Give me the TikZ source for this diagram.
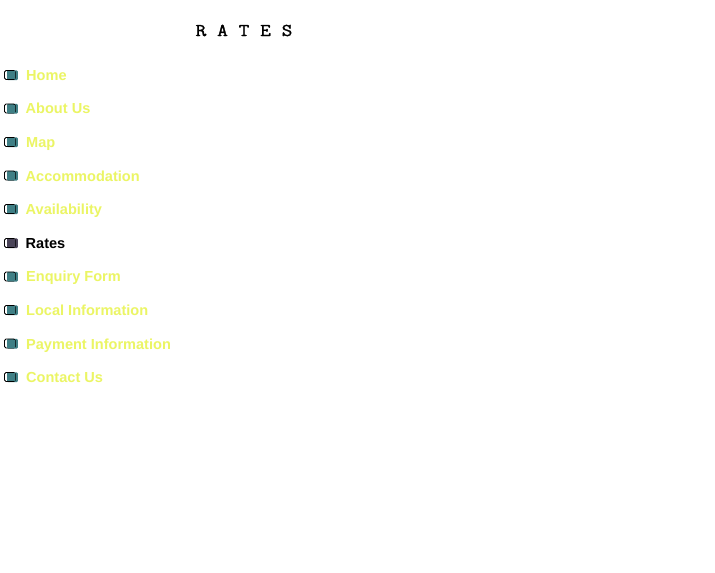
\documentclass[tikz,border=0pt]{standalone}
\usepackage{fontspec}
\setmainfont{Liberation Sans}
\newfontfamily\titlefont[LetterSpace=1,FakeBold=1.6,FakeStretch=1.15]{Latin Modern Mono}
\definecolor{linkc}{HTML}{EBF564}
\definecolor{tealc}{HTML}{3F7F85}
\definecolor{darkc}{HTML}{4A4458}
\tikzset{
  item/.style={anchor=base west,inner sep=0pt,font=\fontsize{14.55}{14.55}\selectfont\bfseries,text=linkc},
  current/.style={item,text=black},
  heading/.style={anchor=base west,inner sep=0pt,font=\titlefont\fontsize{18}{18}\selectfont},
  iconfill/.style={rounded corners=1pt},
  iconline/.style={draw=black,line width=0.9pt,rounded corners=1.5pt}
}
\newcommand{\bullicon}[2]{%
  \fill[iconfill,fill=#2] (7,#1-4.7) rectangle (17.8,#1+5);
  \draw[iconline] (4.5,#1-4.5) rectangle (15.2,#1+4.5);
  \fill[#2] (7.2,#1-4) rectangle (14.7,#1+4);
}
\begin{document}
\begin{tikzpicture}[x=1pt,y=-1pt]
\useasboundingbox[fill=white] (0,0) rectangle (715,573);
\node[heading] (title) at (195.5,36) {R A T E S};
\bullicon{75}{tealc}\node[item] (n1) at (26,80) {Home};
\bullicon{108.5}{tealc}\node[item] (n2) at (25.5,113) {About Us};
\bullicon{142}{tealc}\node[item] (n3) at (26,147) {Map};
\bullicon{175.5}{tealc}\node[item] (n4) at (25.5,181) {Accommodation};
\bullicon{209}{tealc}\node[item] (n5) at (25.5,214) {Availability};
\bullicon{243}{darkc}\node[current] (n6) at (25.5,248) {Rates};
\bullicon{276.5}{tealc}\node[item] (n7) at (26,281) {Enquiry Form};
\bullicon{310}{tealc}\node[item] (n8) at (26,315) {Local Information};
\bullicon{343.5}{tealc}\node[item] (n9) at (26,349) {Payment Information};
\bullicon{377}{tealc}\node[item] (n10) at (26,382) {Contact Us};
\end{tikzpicture}
\end{document}
